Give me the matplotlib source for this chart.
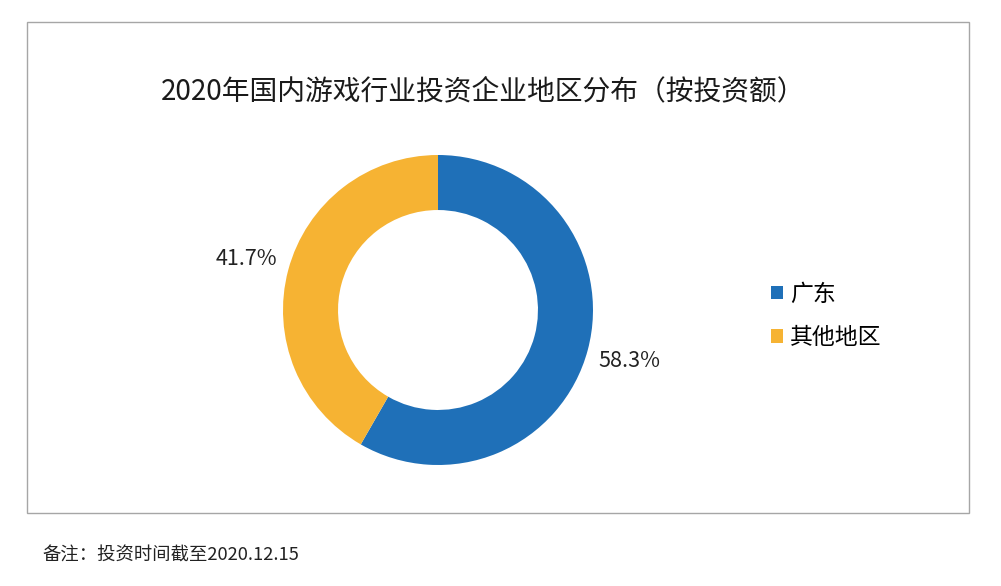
import matplotlib.pyplot as plt
from matplotlib.patches import Rectangle

plt.rcParams['font.family'] = ['Noto Sans CJK SC', 'DejaVu Sans']

# data
regions = ['广东', '其他地区']
shares = [58.3, 41.7]
colors = ['#1F70B8', '#F6B333']
title = '2020年国内游戏行业投资企业地区分布（按投资额）'
note = '备注：投资时间截至2020.12.15'

fig = plt.figure(figsize=(10.01, 5.86), dpi=100)

# gray frame around the chart area
fig.patches.append(Rectangle((27 / 1001, 1 - 513 / 586), 942 / 1001, 491 / 586,
                             transform=fig.transFigure, fill=False,
                             edgecolor='#A6A6A6', linewidth=1.0))

ax = fig.add_axes([283 / 1001, 121 / 586, 310 / 1001, 310 / 586])
wedges, texts, autotexts = ax.pie(shares, colors=colors, startangle=90, counterclock=False,
                                  autopct='%.1f%%', pctdistance=1.28,
                                  wedgeprops=dict(width=0.355, edgecolor='none'),
                                  textprops=dict(fontsize=15.5, color='#222222'))
ax.set_xlim(-1, 1)
ax.set_ylim(-1, 1)
ax.set_aspect('equal')
ax.axis('off')

fig.text(483 / 1001, 1 - 91 / 586, title, ha='center', va='center', fontsize=20, color='#1a1a1a')

fig.legend(wedges, regions, loc='center left', bbox_to_anchor=(750 / 1001, 1 - 316 / 586),
           frameon=False, fontsize=16.5, handlelength=0.55, handleheight=0.55,
           handletextpad=0.3, labelspacing=0.9)

fig.text(42 / 1001, 1 - 556 / 586, note, ha='left', va='center', fontsize=13.2,
         style='italic', color='#222222')

fig.savefig('out.png', dpi=100)
